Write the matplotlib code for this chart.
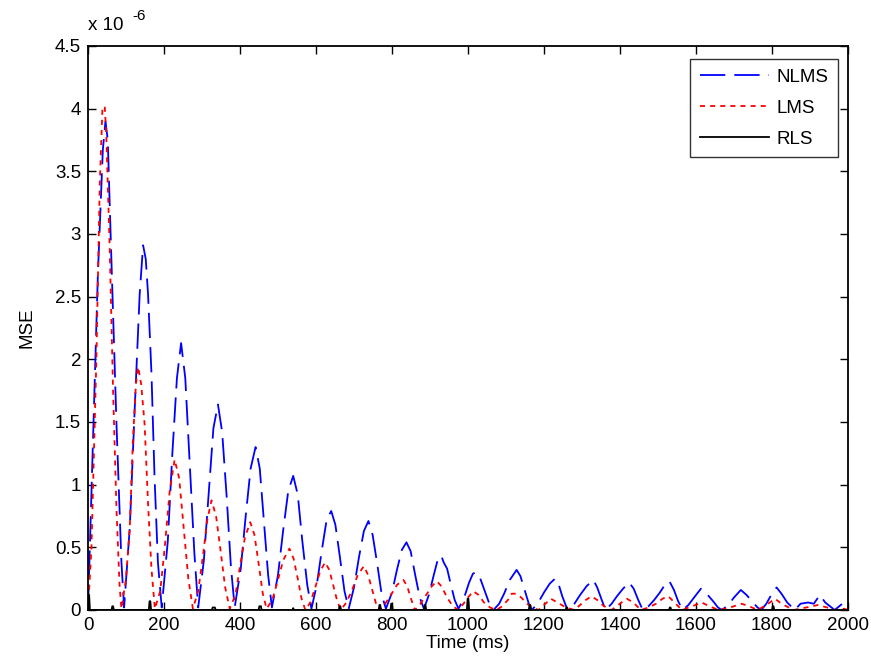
import matplotlib
matplotlib.use("Agg")
import matplotlib.pyplot as plt

plt.rcParams['font.family'] = ['Liberation Sans', 'DejaVu Sans']

# MSE values in units of 1e-6, time in ms
nlms_t = [0, 13, 26, 39, 46, 52, 61, 75, 88, 95,
          110, 123, 136, 145, 152, 158, 167, 175, 184, 194,
          210, 222, 234, 245, 256, 268, 280, 290,
          305, 318, 330, 342, 353, 365, 376, 386,
          402, 415, 428, 441, 452, 463, 474, 484,
          500, 513, 527, 540, 552, 564, 577, 588,
          602, 615, 628, 640, 651, 663, 675, 686,
          700, 713, 726, 738, 749, 761, 773, 784,
          800, 813, 826, 838, 849, 861, 873, 884,
          897, 910, 922, 930, 936, 945, 955, 965, 975,
          990, 1003, 1013, 1020, 1030, 1042, 1055, 1067,
          1082, 1095, 1110, 1128, 1138, 1150, 1160, 1168,
          1185, 1200, 1215, 1229, 1238, 1248, 1262,
          1280, 1295, 1312, 1330, 1340, 1352, 1362,
          1378, 1392, 1408, 1424, 1436, 1448, 1460,
          1475, 1490, 1505, 1518, 1530, 1542, 1553, 1565,
          1580, 1595, 1613, 1628, 1645, 1658, 1668,
          1685, 1700, 1718, 1733, 1750, 1762, 1772,
          1785, 1798, 1812, 1825, 1840, 1860,
          1875, 1895, 1910, 1926, 1940, 1965, 1985, 2000]
nlms_v = [0, 1.34, 2.68, 3.67, 3.90, 3.75, 2.85, 1.48, 0.38, 0.02,
          0.66, 1.61, 2.52, 2.91, 2.80, 2.52, 1.89, 1.07, 0.38, 0.02,
          0.55, 1.25, 1.85, 2.13, 1.85, 1.15, 0.45, 0.02,
          0.40, 0.95, 1.45, 1.64, 1.42, 0.90, 0.35, 0.02,
          0.33, 0.75, 1.13, 1.30, 1.13, 0.70, 0.28, 0.02,
          0.28, 0.62, 0.95, 1.07, 0.92, 0.55, 0.20, 0.01,
          0.20, 0.47, 0.72, 0.79, 0.68, 0.42, 0.15, 0.01,
          0.18, 0.42, 0.63, 0.71, 0.60, 0.37, 0.12, 0.01,
          0.14, 0.32, 0.48, 0.54, 0.47, 0.28, 0.10, 0.01,
          0.12, 0.28, 0.42, 0.43, 0.38, 0.33, 0.20, 0.08, 0.01,
          0.10, 0.22, 0.29, 0.30, 0.27, 0.17, 0.06, 0.0,
          0.05, 0.13, 0.24, 0.32, 0.27, 0.15, 0.05, 0.0,
          0.06, 0.14, 0.21, 0.25, 0.21, 0.11, 0.0,
          0.05, 0.12, 0.19, 0.24, 0.18, 0.08, 0.0,
          0.05, 0.11, 0.17, 0.22, 0.17, 0.08, 0.0,
          0.03, 0.08, 0.14, 0.20, 0.23, 0.16, 0.07, 0.0,
          0.04, 0.10, 0.17, 0.13, 0.07, 0.02, 0.0,
          0.04, 0.10, 0.16, 0.12, 0.06, 0.02, 0.0,
          0.05, 0.12, 0.18, 0.13, 0.06, 0.0,
          0.05, 0.06, 0.05, 0.12, 0.06, 0.0, 0.05, 0.02]

lms_t = [0, 9, 22, 31, 38, 44, 48, 57, 66, 75, 83, 88,
         100, 110, 118, 126, 132, 140, 149, 158, 167, 176,
         190, 202, 215, 228, 240, 252, 264, 276,
         290, 302, 314, 325, 337, 349, 361, 373,
         388, 400, 413, 427, 438, 449, 460, 470,
         485, 498, 514, 530, 541, 552, 562, 572,
         585, 598, 611, 624, 635, 646, 656, 665,
         680, 695, 710, 726, 737, 748, 758, 768,
         782, 797, 813, 830, 840, 850, 860,
         875, 890, 905, 918, 930, 945, 960, 975,
         988, 1000, 1014, 1028, 1042, 1058, 1075,
         1090, 1105, 1115, 1126, 1140, 1155, 1170, 1185,
         1200, 1218, 1235, 1258, 1280,
         1295, 1310, 1325, 1340, 1358, 1378,
         1395, 1418, 1435, 1455,
         1475, 1495, 1512, 1527, 1540, 1563,
         1590, 1615, 1635, 1660,
         1690, 1720, 1740, 1762,
         1785, 1808, 1825, 1857,
         1890, 1921, 1945, 1966, 1990, 2000]
lms_v = [0, 0.49, 2.0, 3.4, 4.0, 4.02, 3.8, 2.9, 1.75, 0.8, 0.2, 0.01,
         0.25, 0.66, 1.34, 1.80, 1.94, 1.80, 1.48, 0.85, 0.33, 0.01,
         0.15, 0.50, 0.95, 1.20, 1.05, 0.65, 0.25, 0.01,
         0.15, 0.42, 0.72, 0.875, 0.75, 0.47, 0.18, 0.01,
         0.12, 0.35, 0.58, 0.70, 0.60, 0.37, 0.13, 0.01,
         0.08, 0.22, 0.40, 0.49, 0.41, 0.25, 0.09, 0.0,
         0.06, 0.18, 0.31, 0.38, 0.32, 0.19, 0.07, 0.0,
         0.06, 0.16, 0.28, 0.35, 0.28, 0.16, 0.05, 0.0,
         0.05, 0.12, 0.20, 0.24, 0.19, 0.09, 0.0,
         0.05, 0.12, 0.19, 0.23, 0.19, 0.10, 0.03, 0.0,
         0.05, 0.10, 0.15, 0.12, 0.06, 0.02, 0.0,
         0.03, 0.08, 0.13, 0.13, 0.10, 0.05, 0.02, 0.0,
         0.04, 0.09, 0.06, 0.02, 0.0,
         0.04, 0.08, 0.11, 0.08, 0.03, 0.0,
         0.04, 0.09, 0.06, 0.0,
         0.02, 0.05, 0.09, 0.11, 0.07, 0.0,
         0.03, 0.06, 0.03, 0.0,
         0.02, 0.05, 0.03, 0.0,
         0.04, 0.09, 0.05, 0.0,
         0.02, 0.04, 0.02, 0.0, 0.01, 0.0]

rls_t = [0, 2, 3, 5, 62, 64, 66, 68, 160, 162, 164, 166, 326, 328, 334, 336,
         449, 451, 455, 457, 538, 540, 542, 660, 662, 664, 666, 765, 767, 769, 771,
         796, 798, 800, 802, 884, 886, 888, 890, 997, 999, 1001, 1003,
         1160, 1162, 1164, 1166, 1257, 1259, 1261, 1263, 1529, 1531, 1533, 1535,
         1800, 1802, 1804, 1806, 2000]
rls_v = [0, 0.12, 0.12, 0.0, 0.0, 0.03, 0.03, 0.0, 0.0, 0.07, 0.07, 0.0, 0.0, 0.02, 0.02, 0.0,
         0.0, 0.03, 0.03, 0.0, 0.0, 0.015, 0.0, 0.0, 0.03, 0.03, 0.0, 0.0, 0.04, 0.04, 0.0,
         0.0, 0.05, 0.05, 0.0, 0.0, 0.04, 0.04, 0.0, 0.0, 0.09, 0.09, 0.0,
         0.0, 0.04, 0.04, 0.0, 0.0, 0.02, 0.02, 0.0, 0.0, 0.02, 0.02, 0.0,
         0.0, 0.03, 0.03, 0.0, 0.0]

x_ticks = [0, 200, 400, 600, 800, 1000, 1200, 1400, 1600, 1800, 2000]
y_ticks = [0, 0.5, 1, 1.5, 2, 2.5, 3, 3.5, 4, 4.5]
y_tick_labels = ['0', '0.5', '1', '1.5', '2', '2.5', '3', '3.5', '4', '4.5']

fig = plt.figure(figsize=(8.71, 6.67), dpi=100)
ax = fig.add_axes([88/871, 1 - 610/667, 760/871, 564/667])

lw = 1.3
ax.plot(nlms_t, nlms_v, color='#0000FF', lw=lw, dashes=(14, 5), label='NLMS')
ax.plot(lms_t, lms_v, color='#FF0000', lw=lw, dashes=(2.8, 2.8), label='LMS')
ax.plot(rls_t, rls_v, color='black', lw=lw, label='RLS')

ax.set_xlim(0, 2000)
ax.set_ylim(0, 4.5)
ax.set_xticks(x_ticks)
ax.set_xticklabels([str(v) for v in x_ticks])
ax.set_yticks(y_ticks)
ax.set_yticklabels(y_tick_labels)

fs = 13.5
ax.tick_params(direction='in', top=True, right=True, length=6, width=1,
               labelsize=fs, pad=5)
for s in ax.spines.values():
    s.set_linewidth(1.3)

ax.set_xlabel('Time (ms)', fontsize=fs, labelpad=1)
ax.set_ylabel('MSE', fontsize=fs, labelpad=14)

fig.text(88/871, 1 - 30/667, 'x 10', fontsize=fs, ha='left', va='baseline')
fig.text(132/871, 1 - 20/667, '-6', fontsize=11, ha='left', va='baseline')

leg = ax.legend(loc='upper right', bbox_to_anchor=((838 - 88) / 760, (610 - 59) / 564),
                borderaxespad=0, fontsize=fs, frameon=True, fancybox=False,
                edgecolor='black', handlelength=3.7, labelspacing=0.75,
                handletextpad=0.4, borderpad=0.5)
leg.get_frame().set_linewidth(1.0)

fig.savefig('out.png', dpi=100, facecolor='white')
